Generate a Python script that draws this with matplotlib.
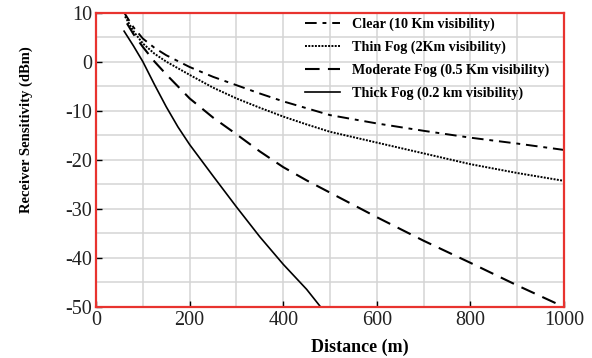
import matplotlib
matplotlib.use("Agg")
import matplotlib.pyplot as plt
from matplotlib.ticker import MultipleLocator

plt.rcParams['font.family'] = ['Liberation Serif', 'DejaVu Serif']
plt.rcParams['axes.unicode_minus'] = False

# Data
clear_x = [58, 80, 100, 125, 150, 200, 250, 300, 350, 400, 450, 500, 600, 700, 800, 900, 1000]
clear_y = [10.3, 7.0, 4.7, 2.8, 1.3, -1.1, -3.1, -4.8, -6.5, -8.1, -9.5, -10.9, -12.6, -14.1, -15.5, -16.7, -18.0]

thin_x = [62, 80, 100, 125, 150, 200, 250, 300, 350, 400, 450, 500, 600, 700, 800, 900, 1000]
thin_y = [9.2, 6.2, 3.7, 1.6, 0.0, -2.7, -5.3, -7.5, -9.4, -11.2, -12.8, -14.3, -16.5, -18.7, -20.9, -22.7, -24.3]

moderate_x = [66, 80, 100, 125, 150, 200, 250, 300, 350, 400, 450, 500, 600, 700, 800, 900, 1000]
moderate_y = [7.8, 5.6, 3.0, 0.0, -2.6, -7.5, -11.4, -14.8, -18.3, -21.5, -24.2, -26.7, -31.7, -36.5, -41.0, -45.6, -50.0]

thick_x = [60, 80, 100, 125, 150, 175, 200, 250, 300, 350, 400, 450, 480]
thick_y = [6.2, 3.2, 0.0, -4.7, -9.2, -13.3, -16.9, -23.3, -29.6, -35.7, -41.3, -46.4, -50.0]

labels = ["Clear (10 Km visibility)", "Thin Fog (2Km visibility)",
          "Moderate Fog (0.5 Km visibility)", "Thick Fog (0.2 km visibility)"]

x_ticks = [0, 200, 400, 600, 800, 1000]
y_ticks = [10, 0, -10, -20, -30, -40, -50]

fig = plt.figure(figsize=(5.92, 3.58), dpi=100)
ax = fig.add_axes([0.1622, 0.1425, 0.7905, 0.8225])

ax.plot(clear_x, clear_y, color='black', lw=1.4, dashes=(6, 3, 2, 3), label=labels[0])
ax.plot(thin_x, thin_y, color='black', lw=1.4, dashes=(1.0, 0.7), label=labels[1])
ax.plot(moderate_x, moderate_y, color='black', lw=1.5, dashes=(7, 4), label=labels[2])
ax.plot(thick_x, thick_y, color='black', lw=1.2, linestyle='-', label=labels[3])

ax.set_xlim(0, 1000)
ax.set_ylim(-50, 10)
ax.set_xticks(x_ticks)
ax.set_yticks(y_ticks)
ax.xaxis.set_minor_locator(MultipleLocator(100))
ax.yaxis.set_minor_locator(MultipleLocator(5))
ax.grid(True, which='both', color='#d4d4d4', lw=1.1)
ax.set_axisbelow(True)
ax.tick_params(which='major', direction='in', length=4, width=1, color='black',
               labelsize=14.5, pad=3, labelcolor='#222222')
ax.tick_params(which='minor', length=0)

for s in ax.spines.values():
    s.set_color('#e8332f')
    s.set_linewidth(1.6)

ax.set_xlabel('Distance (m)', fontsize=13, fontweight='bold')
ax.xaxis.set_label_coords(0.564, -0.108)
ax.set_ylabel('Receiver Sensitivity (dBm)', fontsize=10.5, fontweight='bold')
ax.yaxis.set_label_coords(-0.135, 0.601)

leg = ax.legend(loc='upper left', bbox_to_anchor=(0.4466, 0.982), frameon=False,
                prop={'size': 10.2, 'weight': 'bold'}, handlelength=2.5,
                labelspacing=0.66, handletextpad=0.85, borderpad=0, borderaxespad=0)

fig.savefig('out.png', dpi=100)
